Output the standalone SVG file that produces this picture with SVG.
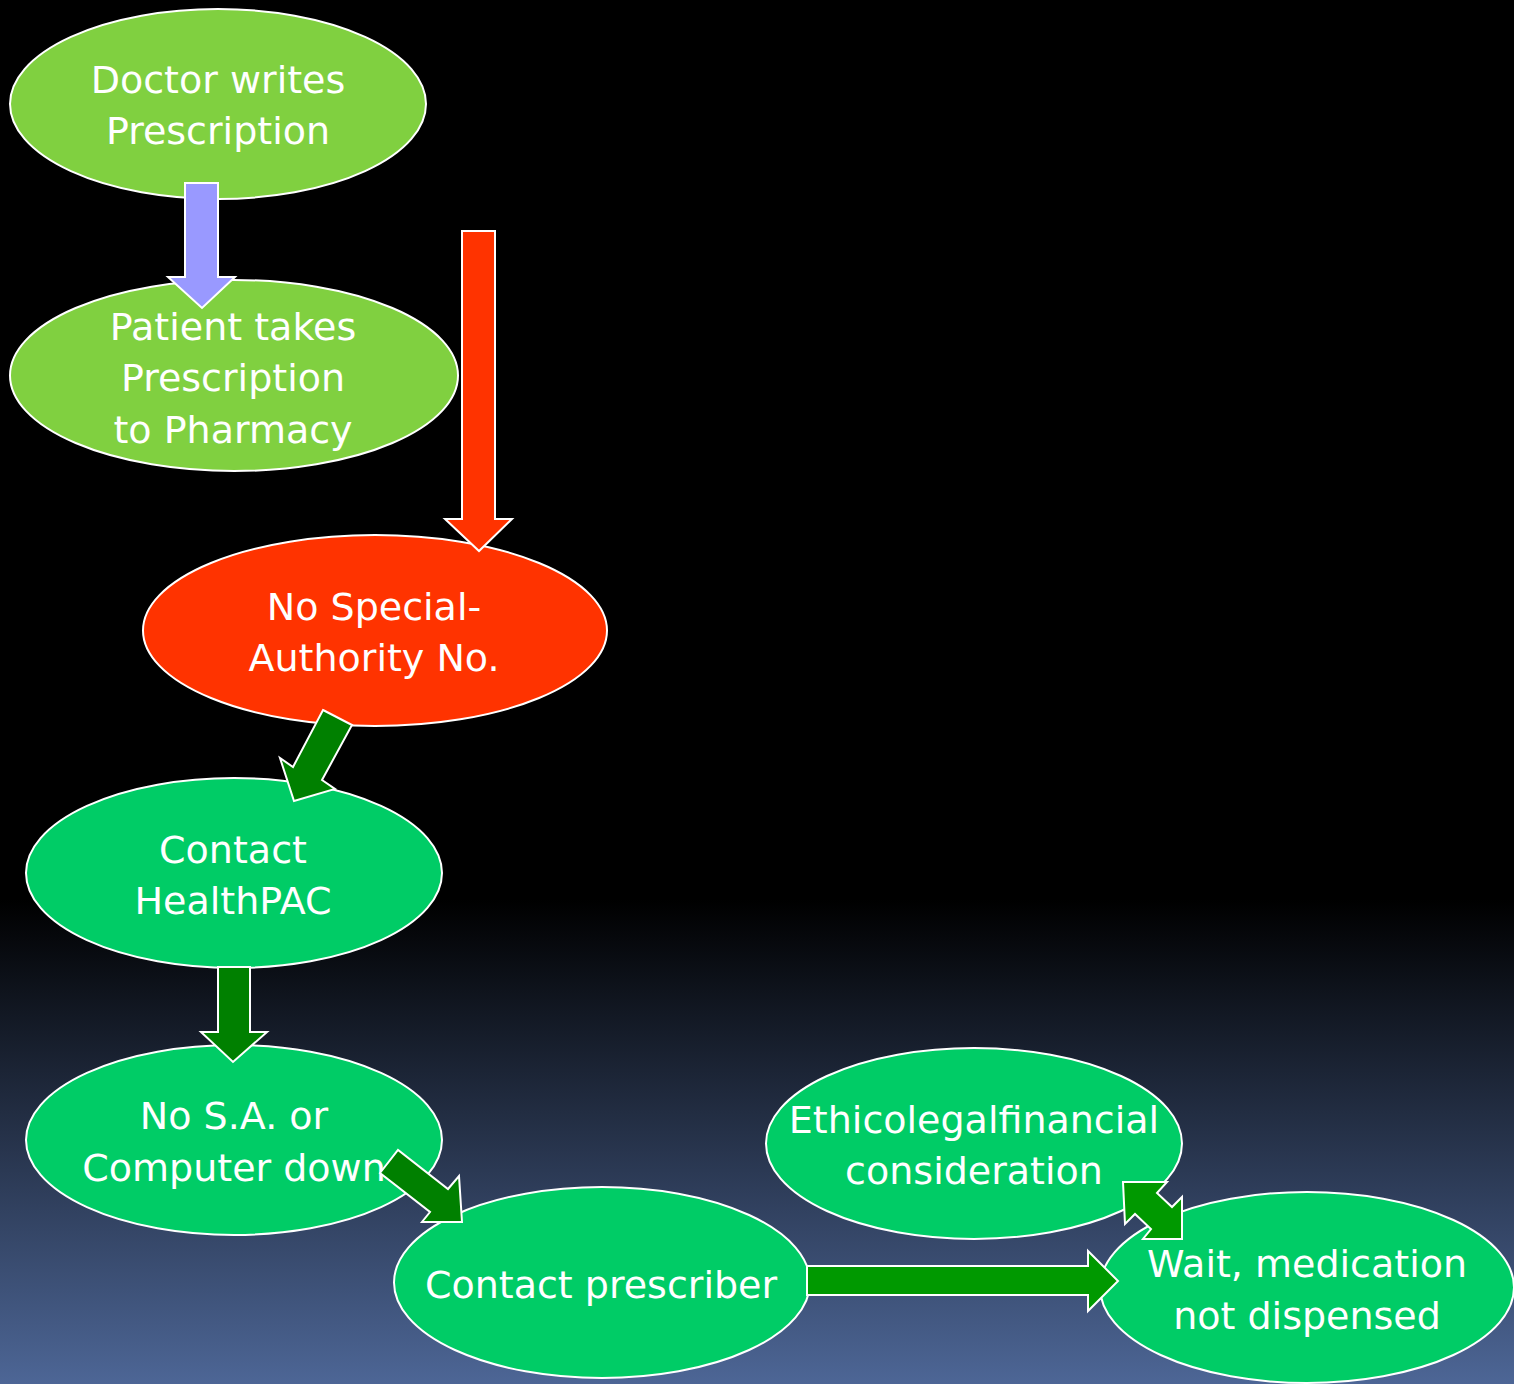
<svg xmlns="http://www.w3.org/2000/svg" width="1514" height="1384" viewBox="0 0 1514 1384">
<defs>
<linearGradient id="bg" x1="0" y1="0" x2="0" y2="1384" gradientUnits="userSpaceOnUse">
<stop offset="0" stop-color="#000000"/>
<stop offset="0.65" stop-color="#000000"/>
<stop offset="1" stop-color="#4d6696"/>
</linearGradient>
<style>
.node{stroke:#ffffff;stroke-width:2}
.lime{fill:#80d040}
.grn{fill:#00cc66}
.red{fill:#ff3300}
.arr{stroke:#ffffff;stroke-width:2;stroke-linejoin:miter}
text{font-family:"DejaVu Sans","Liberation Sans",sans-serif;font-size:38px;fill:#ffffff;text-anchor:middle}
</style>
</defs>
<rect x="0" y="0" width="1514" height="1384" fill="url(#bg)"/>
<g id="n-doctor">
<ellipse class="node lime" cx="218" cy="104" rx="208" ry="95"/>
<text x="218" y="93">Doctor writes</text>
<text x="218" y="144">Prescription</text>
</g>
<g id="n-patient">
<ellipse class="node lime" cx="234" cy="375.5" rx="224" ry="95.5"/>
<text x="233" y="340">Patient takes</text>
<text x="233" y="391">Prescription</text>
<text x="233" y="443">to Pharmacy</text>
</g>
<g id="n-nosa">
<ellipse class="node red" cx="375" cy="630.5" rx="232" ry="95.5"/>
<text x="374" y="620">No Special-</text>
<text x="374" y="671">Authority No.</text>
</g>
<g id="n-healthpac">
<ellipse class="node grn" cx="234" cy="873" rx="208" ry="95"/>
<text x="233" y="863">Contact</text>
<text x="233" y="914">HealthPAC</text>
</g>
<g id="n-computer">
<ellipse class="node grn" cx="234" cy="1140" rx="208" ry="95"/>
<text x="234" y="1129">No S.A. or</text>
<text x="234" y="1181">Computer down</text>
</g>
<g id="n-prescriber">
<ellipse class="node grn" cx="602" cy="1282.5" rx="208" ry="95.5"/>
<text x="601" y="1298">Contact prescriber</text>
</g>
<g id="n-ethico">
<ellipse class="node grn" cx="974" cy="1143.5" rx="208" ry="95.5"/>
<text x="974" y="1133">Ethicolegalfinancial</text>
<text x="974" y="1184">consideration</text>
</g>
<g id="n-wait">
<ellipse class="node grn" cx="1307" cy="1287.5" rx="207" ry="95.5"/>
<text x="1307" y="1277">Wait, medication</text>
<text x="1307" y="1329">not dispensed</text>
</g>
<g id="connectors">
<polygon class="arr" fill="#9999ff" points="185,183 218,183 218,277 235,277 202,308 168,277 185,277"/>
<polygon class="arr" fill="#ff3300" points="462,231 495,231 495,519 512,519 479,551 445,519 462,519"/>
<polygon class="arr" fill="#008000" points="323,710 352,725 322,780 335,789 294,801 280,758 293,767"/>
<polygon class="arr" fill="#008000" points="218,967 250,967 250,1032 267,1032 233,1062 201,1032 218,1032"/>
<polygon class="arr" fill="#008000" points="380,1173 398,1150 448,1189 459,1176 462,1222 422,1222 430,1212"/>
<polygon class="arr" fill="#009900" points="807,1266 1088,1266 1088,1251 1118,1281 1088,1311 1088,1295 807,1295"/>
<polygon class="arr" fill="#009900" points="1123,1182 1167,1182 1157,1193 1172,1207 1182,1197 1182,1239 1143,1239 1151,1229 1135,1214 1125,1224"/>
</g>
</svg>
